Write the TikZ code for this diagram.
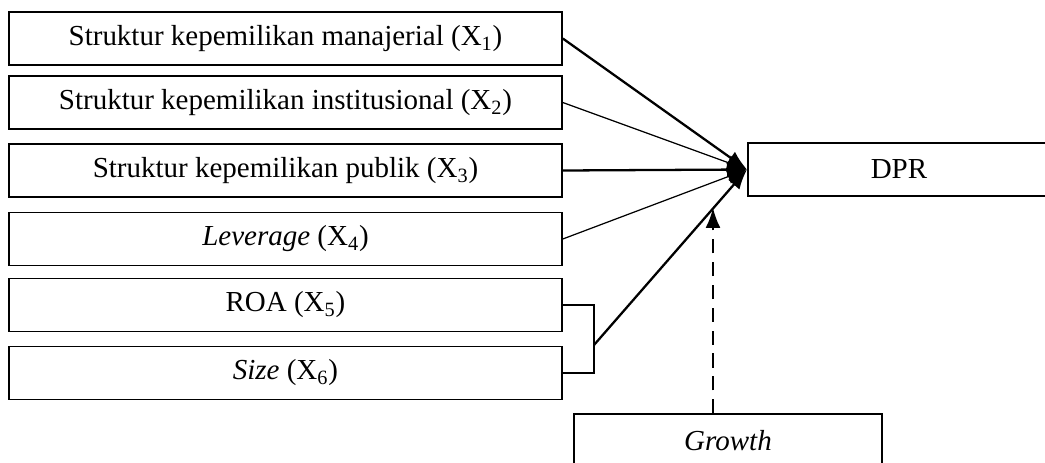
\documentclass[tikz,border=0pt]{standalone}
\usepackage{fontspec}
\setmainfont{Liberation Serif}
\usepackage{tikz}
\usetikzlibrary{arrows.meta,positioning}

\begin{document}
\begin{tikzpicture}[x=0.02cm,y=-0.02cm]
	\tikzset{varbox/.style={draw, line width=0.9pt, minimum width=553*0.02cm, minimum height=53*0.02cm, inner sep=0pt, font=\fontsize{16.5}{19}\selectfont},
		thickarr/.style={line width=1.3pt, -{Latex[length=4mm, width=3mm]}},
		thinarr/.style={line width=0.7pt, -{Latex[length=4mm, width=3mm]}}}
	\useasboundingbox (0,0) rectangle (1045,463);
	\clip (0,0) rectangle (1045,463);
	% independent variables
	\node[varbox] (x1) at (285.5,38.5) {Struktur kepemilikan manajerial (X\textsubscript{1})};
	\node[varbox] (x2) at (285.5,102.5) {Struktur kepemilikan institusional (X\textsubscript{2})};
	\node[varbox] (x3) at (285.5,170.5) {Struktur kepemilikan publik (X\textsubscript{3})};
	\node[varbox] (x4) at (285.5,239) {\textit{Leverage} (X\textsubscript{4})};
	\node[varbox] (x5) at (285.5,305) {ROA (X\textsubscript{5})};
	\node[varbox] (x6) at (285.5,373) {\textit{Size} (X\textsubscript{6})};
	% dependent and moderating
	\node[varbox, minimum width=320*0.02cm, anchor=west] (dpr) at (747,169.5) {\hspace*{-10pt}DPR};
	\node[varbox, minimum width=308*0.02cm] (growth) at (728,440.5) {\textit{Growth}};
	
	\coordinate (brk) at (594,345);
	\coordinate (mod) at (713,208);
	
	\draw[thickarr] (x1.east) -- (dpr.west);
	\draw[thinarr] (x2.east) -- (dpr.west);
	\draw[thickarr] (x3.east) -- (dpr.west);
	\draw[thinarr] (x4.east) -- (dpr.west);
	% bracket for X5 and X6
	\draw[line width=0.9pt] (x5.east) -| (594,0 |- x6.east) -- (x6.east);
	\draw[thickarr] (brk) -- (dpr.west);
	\draw[line width=1.1pt, dashed, dash pattern=on 8pt off 5pt, -{Latex[length=4mm, width=3mm]}] (mod |- growth.north) -- (mod);
\end{tikzpicture}
\end{document}
